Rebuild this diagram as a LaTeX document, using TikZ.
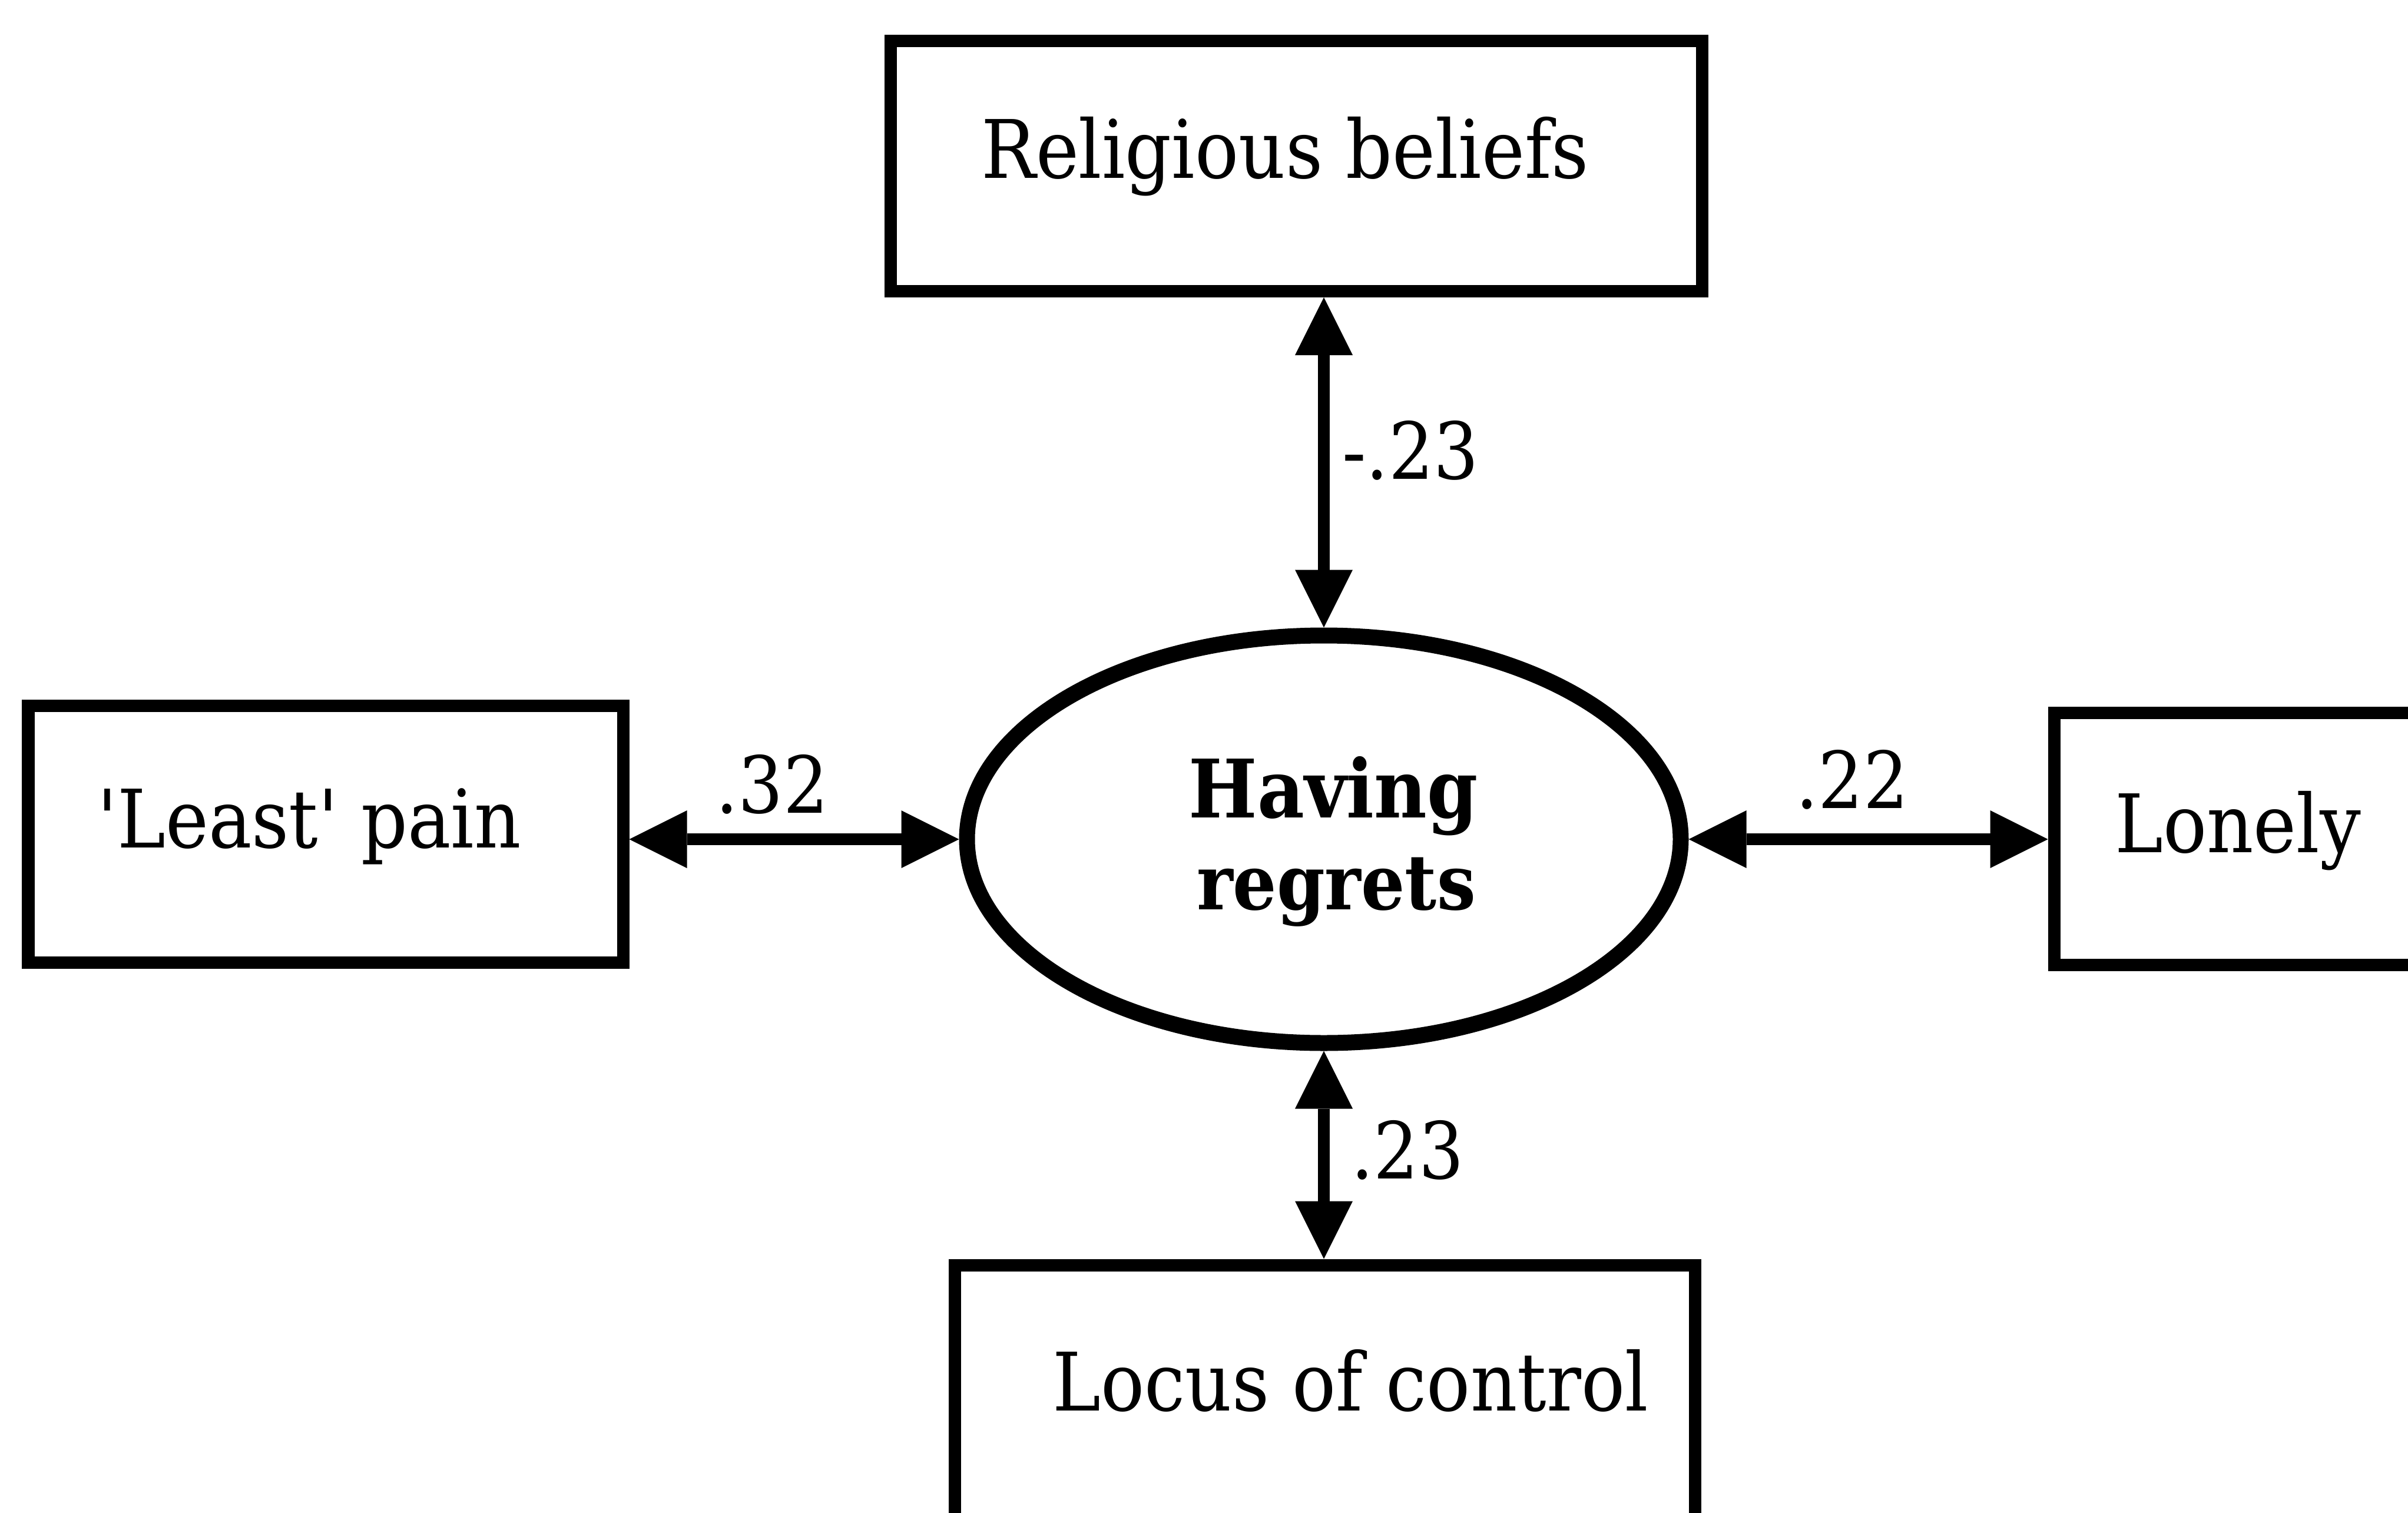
\documentclass[tikz,border=0pt]{standalone}
\usepackage{fontspec}
\setmainfont{DejaVu Serif Condensed}
\usetikzlibrary{arrows.meta,shapes.geometric}

\tikzset{
  varbox/.style={draw, line width=0.21cm, rectangle, inner sep=0pt},
  latent/.style={draw, line width=0.27cm, ellipse, inner sep=0pt,
    minimum width=12.12cm, minimum height=6.92cm},
  boxtext/.style={inner sep=0pt, anchor=base, font=\fontsize{39pt}{47pt}\selectfont},
  coef/.style={inner sep=0pt, font=\fontsize{38pt}{46pt}\selectfont},
  corr/.style={line width=0.2cm, line join=miter,
    {Triangle[length=9.8mm,width=9.8mm,line width=0pt]}-{Triangle[length=9.8mm,width=9.8mm,line width=0pt]}}
}

\begin{document}
\begin{tikzpicture}
\useasboundingbox (0,0) rectangle (40.89,-25.69);
\clip (0,0) rectangle (40.89,-25.69);

% observed variables
\node (rel)   [varbox, minimum width=13.78cm, minimum height=4.25cm] at (22.01,-2.82) {};
\node (least) [varbox, minimum width=10.10cm, minimum height=4.36cm] at (5.53,-14.16) {};
\node (lon)   [varbox, minimum width=8.12cm,  minimum height=4.28cm] at (38.94,-14.24) {};
\node (loc)   [varbox, minimum width=12.57cm, minimum height=5.52cm] at (22.50,-24.24) {};

% latent variable
\node (hr) [latent] at (22.48,-14.25) {};

% box captions
\node (relt)   [boxtext] at (21.82,-3.02)  {Religious beliefs};
\node (leastt) [boxtext] at (5.25,-14.39)  {\textquotesingle Least\textquotesingle\ pain};
\node (lont)   [boxtext] at (38.00,-14.47) {Lonely};
\node (loct)   [boxtext] at (22.93,-23.95) {Locus of control};
\node (hrt1)   [boxtext, font=\fontsize{39pt}{47pt}\selectfont\bfseries] at (22.64,-13.88) {Having};
\node (hrt2)   [boxtext, font=\fontsize{37pt}{45pt}\selectfont\bfseries] at (22.69,-15.44) {regrets};

% correlations
\draw[corr] (hr.north |- rel.south) -- (hr.north);
\draw[corr] (hr.west -| least.east) -- (hr.west);
\draw[corr] (hr.east) -- (hr.east -| lon.west);
\draw[corr] (hr.south) -- (hr.south |- loc.north);

% coefficients
\node (c1) [coef] at (23.95,-7.65)  {-.23};
\node (c2) [coef] at (13.11,-13.32) {.32};
\node (c3) [coef] at (31.45,-13.24) {.22};
\node (c4) [coef] at (23.90,-19.53) {.23};
\end{tikzpicture}
\end{document}
